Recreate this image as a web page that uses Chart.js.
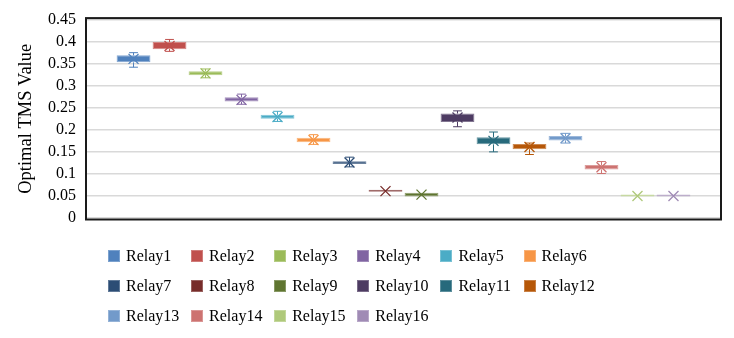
<!DOCTYPE html>
<html>
<head>
<meta charset="utf-8">
<script src="https://cdn.jsdelivr.net/npm/chart.js@4.4.1/dist/chart.umd.min.js"></script>
<style>
  body { margin:0; background:#fff; }
  #wrap { position:relative; width:734px; height:338px; }
  #chartBox { position:absolute; left:0; top:0; width:734px; height:240px; }
  #legend { position:absolute; left:0; top:0; width:734px; height:338px; pointer-events:none;
            font-family:'Liberation Serif','Times New Roman',serif; font-size:16px; color:#000; }
  .lg-item { position:absolute; height:20px; display:flex; align-items:center; white-space:nowrap; }
  .lg-sw { width:12px; height:12px; margin-right:6px; box-sizing:border-box; }
</style>
</head>
<body>
<div id="wrap">
  <div id="chartBox"><canvas id="c"></canvas></div>
  <div id="legend"></div>
</div>
<script>
/* box-and-whisker data */
const relays = ['Relay1','Relay2','Relay3','Relay4','Relay5','Relay6','Relay7','Relay8',
                'Relay9','Relay10','Relay11','Relay12','Relay13','Relay14','Relay15','Relay16'];
const minVals  = [0.342,0.378,0.318,0.258,0.219,0.167,0.116,0.0595,0.049,0.207,0.150,0.144,0.170,0.101,0.049,0.049];
const q1Vals   = [0.353,0.383,0.324,0.264,0.225,0.172,0.1225,0.0595,0.049,0.218,0.167,0.156,0.176,0.110,0.049,0.049];
const q3Vals   = [0.369,0.399,0.333,0.274,0.234,0.182,0.129,0.0625,0.057,0.237,0.183,0.168,0.186,0.120,0.0515,0.0515];
const maxVals  = [0.375,0.405,0.338,0.281,0.242,0.189,0.138,0.0625,0.057,0.243,0.195,0.170,0.192,0.128,0.0515,0.0515];
const meanVals = [0.361,0.390,0.328,0.268,0.229,0.177,0.126,0.061,0.053,0.228,0.175,0.161,0.181,0.115,0.050,0.050];
const yTicks   = [0,0.05,0.1,0.15,0.2,0.25,0.3,0.35,0.4,0.45];

const colors = ['#4F81BD','#C0504D','#9BBB59','#8064A2','#4BACC6','#F79646','#2C4D75','#772C2A',
                '#5F7530','#4D3B62','#276A7C','#B65708','#729ACA','#CD7371','#AFC97A','#A08BB5'];

function tint(hex, f){
  const n = parseInt(hex.slice(1),16);
  const r = (n>>16)&255, g=(n>>8)&255, b=n&255;
  const m = c => Math.round(c + (255-c)*f);
  return `rgb(${m(r)},${m(g)},${m(b)})`;
}

Chart.defaults.font.family = "'Liberation Serif','Times New Roman',serif";
Chart.defaults.color = '#000';

const datasets = relays.map((name,i)=>({
  label: name,
  data: [[q1Vals[i], q3Vals[i]]],
  backgroundColor: colors[i],
  borderColor: tint(colors[i], 0.3),
  borderWidth: 1,
  borderSkipped: false,
  minBarLength: 2,
  categoryPercentage: 0.907,
  barPercentage: 0.94
}));

// whiskers, caps and mean markers
const boxExtras = {
  id: 'boxExtras',
  afterDatasetsDraw(chart){
    const {ctx, scales:{y}} = chart;
    ctx.save();
    chart.data.datasets.forEach((ds,i)=>{
      const bar = chart.getDatasetMeta(i).data[0];
      const x = bar.x, cap = bar.width*0.13;
      const pMax = y.getPixelForValue(maxVals[i]), pMin = y.getPixelForValue(minVals[i]);
      const pQ1 = y.getPixelForValue(q1Vals[i]), pQ3 = y.getPixelForValue(q3Vals[i]);
      const pMean = y.getPixelForValue(meanVals[i]);
      ctx.strokeStyle = colors[i];
      ctx.lineWidth = 1;
      ctx.beginPath();
      if (pMax < pQ3) {
        ctx.moveTo(x, pQ3); ctx.lineTo(x, pMax);
        ctx.moveTo(x-cap, pMax); ctx.lineTo(x+cap, pMax);
      }
      if (pMin > pQ1) {
        ctx.moveTo(x, pQ1); ctx.lineTo(x, pMin);
        ctx.moveTo(x-cap, pMin); ctx.lineTo(x+cap, pMin);
      }
      ctx.stroke();
      // mean X
      const s = 5;
      ctx.lineWidth = 1.3;
      ctx.beginPath();
      ctx.moveTo(x-s, pMean-s); ctx.lineTo(x+s, pMean+s);
      ctx.moveTo(x+s, pMean-s); ctx.lineTo(x-s, pMean+s);
      ctx.stroke();
    });
    ctx.restore();
  },
  afterDraw(chart){
    const {ctx, chartArea:a} = chart;
    ctx.save();
    ctx.strokeStyle = '#1a1a1a';
    ctx.lineWidth = 2;
    ctx.strokeRect(a.left, a.top-1.5, a.right-a.left, a.bottom-a.top+3);
    ctx.restore();
  }
};

new Chart(document.getElementById('c'), {
  type: 'bar',
  data: { labels: [''], datasets },
  options: {
    responsive: true,
    maintainAspectRatio: false,
    animation: false,
    layout: { padding: { left: 0, right: 13, top: 17, bottom: 22 } },
    plugins: { legend: { display: false }, tooltip: { enabled: false } },
    scales: {
      x: { display: false },
      y: {
        min: 0, max: 0.45,
        afterFit: s => { s.width = 86; },
        afterBuildTicks: s => { s.ticks = yTicks.map(v=>({value:v})); },
        ticks: {
          padding: 10,
          font: { size: 16 },
          callback: v => String(Number(v.toFixed(2)))
        },
        grid: { color: '#d9d9d9', lineWidth: 1.5, drawTicks: false },
        border: { display: false },
        title: {
          display: true, text: 'Optimal TMS Value',
          font: { size: 18.5 }, padding: { top: 15, bottom: 0 }
        }
      }
    }
  },
  plugins: [boxExtras]
});

// legend laid out in six columns like the original
const legendEl = document.getElementById('legend');
relays.forEach((name,i)=>{
  const col = i % 6, row = Math.floor(i / 6);
  const item = document.createElement('div');
  item.className = 'lg-item';
  item.style.left = (108 + col*83.1) + 'px';
  item.style.top = (256 + row*30 - 10) + 'px';
  item.innerHTML = `<span class="lg-sw" style="background:${colors[i]};border:1px solid ${tint(colors[i],0.25)}"></span>${name}`;
  legendEl.appendChild(item);
});
</script>
</body>
</html>
